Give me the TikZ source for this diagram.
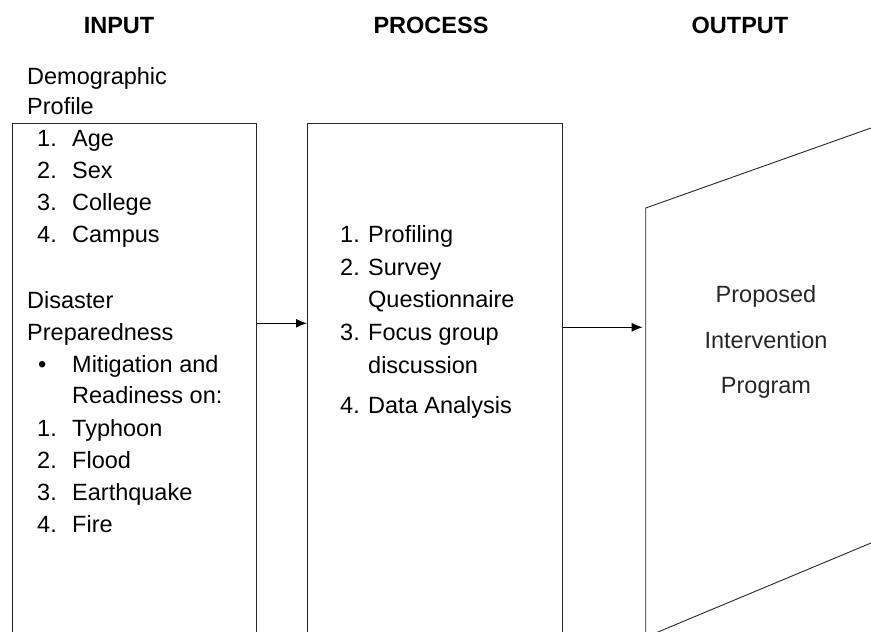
\documentclass[tikz,border=0pt]{standalone}
\usepackage{fontspec}
\setmainfont{Liberation Sans}
\usetikzlibrary{arrows.meta}
\begin{document}
\begin{tikzpicture}[x=1pt,y=-1pt,
  txt/.style={anchor=base west, inner sep=0pt, font=\fontsize{23.5}{28}\selectfont},
  ctxt/.style={anchor=base, inner sep=0pt, text=black!85, font=\fontsize{23.5}{28}\selectfont},
  hdr/.style={anchor=base, inner sep=0pt, font=\fontsize{23.5}{28}\selectfont\bfseries},
  frame/.style={draw=black!85, line width=0.9pt, inner sep=0pt, anchor=north west},
  conn/.style={draw=black, line width=1.2pt, -{Latex[length=11pt,width=9pt]}}]
\useasboundingbox (0,0) rectangle (871,632);
% headers
\node[hdr] (hin)  at (119,33) {INPUT};
\node[hdr] (hpr)  at (431,33) {PROCESS};
\node[hdr] (hout) at (740,33) {OUTPUT};
% frames (open at the bottom of the page)
\begin{scope}
\clip (0,0) rectangle (871,632);
\node[frame, minimum width=244pt, minimum height=540pt] (inbox) at (12,122.5) {};
\node[frame, minimum width=255pt, minimum height=540pt] (procbox) at (307,122.5) {};
\coordinate (otl) at (645.7,208);
\coordinate (otr) at (900,117.7);
\coordinate (obr) at (900,530.9);
\coordinate (obl) at (645.7,637.1);
\draw[black!85, line width=0.9pt] (obl) -- (otl) -- (otr) (obr) -- (obl);
\end{scope}
% input text
\node[txt] (t1) at (27,84) {Demographic};
\node[txt] (t2) at (27,114) {Profile};
\node[txt] (n1) at (37,146) {1.};  \node[txt] (a1) at (72,146) {Age};
\node[txt] (n2) at (37,178) {2.};  \node[txt] (a2) at (72,178) {Sex};
\node[txt] (n3) at (37,210) {3.};  \node[txt] (a3) at (72,210) {College};
\node[txt] (n4) at (37,242) {4.};  \node[txt] (a4) at (72,242) {Campus};
\node[txt] (t3) at (27,308) {Disaster};
\node[txt] (t4) at (27,340) {Preparedness};
\node[txt] (bul) at (38,372) {\textbullet};
\node[txt] (b1) at (72,372) {Mitigation and};
\node[txt] (b2) at (72,403.5) {Readiness on:};
\node[txt] (m1) at (37,436) {1.};  \node[txt] (d1) at (72,436) {Typhoon};
\node[txt] (m2) at (37,468) {2.};  \node[txt] (d2) at (72,468) {Flood};
\node[txt] (m3) at (37,500) {3.};  \node[txt] (d3) at (72,500) {Earthquake};
\node[txt] (m4) at (37,532) {4.};  \node[txt] (d4) at (72,532) {Fire};
% process text
\node[txt] (p1n) at (340,242) {1.}; \node[txt] (p1) at (368,242) {Profiling};
\node[txt] (p2n) at (340,275) {2.}; \node[txt] (p2) at (368,275) {Survey};
\node[txt] (p2b) at (368,307) {Questionnaire};
\node[txt] (p3n) at (340,340) {3.}; \node[txt] (p3) at (368,340) {Focus group};
\node[txt] (p3b) at (368,373) {discussion};
\node[txt] (p4n) at (340,413) {4.}; \node[txt] (p4) at (368,413) {Data Analysis};
% output text
\node[ctxt] (o1) at (766,302) {Proposed};
\node[ctxt] (o2) at (766,348) {Intervention};
\node[ctxt] (o3) at (766,393) {Program};
% connectors
\coordinate (y1) at (0,323.3);
\coordinate (y2) at (0,327.3);
\draw[conn] (inbox.east |- y1) -- (procbox.west |- y1);
\draw[conn, shorten >=3pt] (procbox.east |- y2) -- (otl |- y2);
\end{tikzpicture}
\end{document}
